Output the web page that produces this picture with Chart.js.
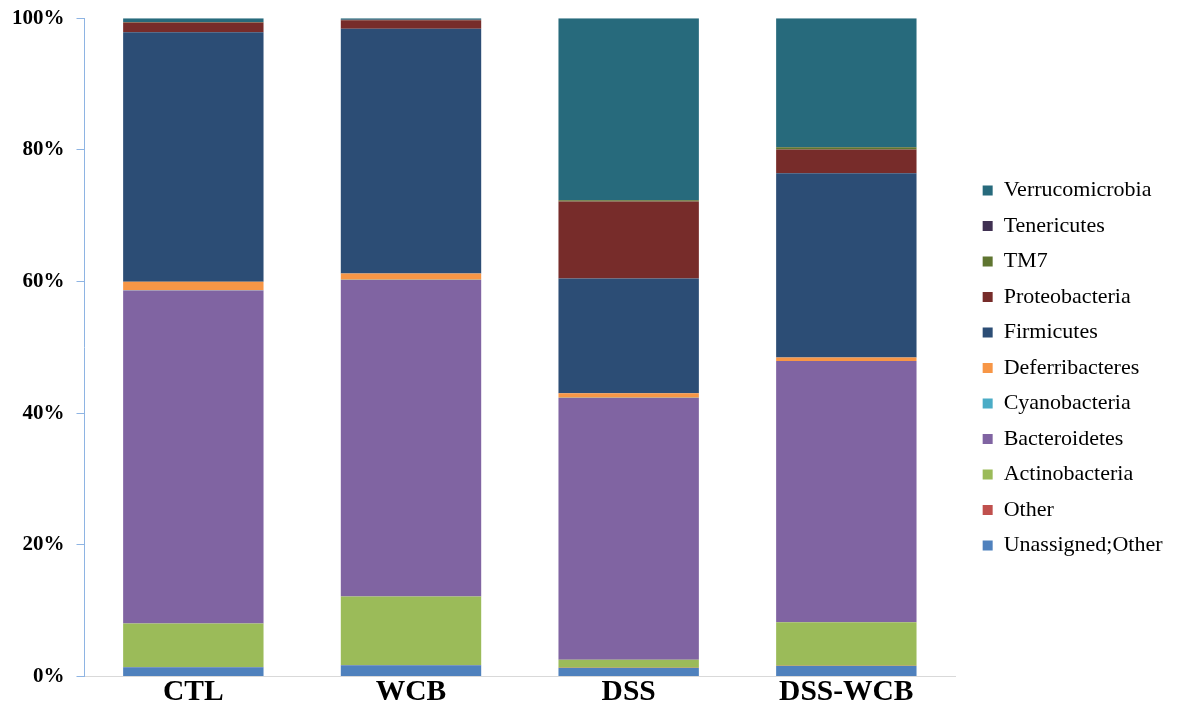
<!DOCTYPE html>
<html>
<head>
<meta charset="utf-8">
<script src="https://cdn.jsdelivr.net/npm/chart.js@4.4.1/dist/chart.umd.min.js"></script>
<style>
  html, body { margin: 0; padding: 0; background: #ffffff; }
  #wrap { width: 1178px; height: 728px; }
</style>
</head>
<body>
<div id="wrap"><canvas id="chart" width="1178" height="728"></canvas></div>
<script>
// Groups along the x axis
const groups = ['CTL', 'WCB', 'DSS', 'DSS-WCB'];

// Relative abundance (%) of each phylum per group, bottom of the stack first
const unassignedOther = [1.4, 1.7, 1.3, 1.6];
const other           = [0.05, 0.05, 0.03, 0.03];
const actinobacteria  = [6.6, 10.4, 1.2, 6.6];
const bacteroidetes   = [50.6, 48.1, 39.8, 39.7];
const cyanobacteria   = [0.02, 0.02, 0.02, 0.02];
const deferribacteres = [1.3, 0.95, 0.7, 0.5];
const firmicutes      = [37.9, 37.2, 17.4, 28.0];
const proteobacteria  = [1.5, 1.3, 11.7, 3.6];
const tm7             = [0.05, 0.03, 0.2, 0.35];
const tenericutes     = [0.03, 0.02, 0.05, 0.05];
const verrucomicrobia = [0.55, 0.23, 27.6, 19.55];

// Y axis tick values
const yTicks = [0, 20, 40, 60, 80, 100];

const series = [
  { label: 'Unassigned;Other', data: unassignedOther, color: '#4F81BD' },
  { label: 'Other',            data: other,           color: '#C0504D' },
  { label: 'Actinobacteria',   data: actinobacteria,  color: '#9BBB59' },
  { label: 'Bacteroidetes',    data: bacteroidetes,   color: '#8064A2' },
  { label: 'Cyanobacteria',    data: cyanobacteria,   color: '#4BACC6' },
  { label: 'Deferribacteres',  data: deferribacteres, color: '#F79646' },
  { label: 'Firmicutes',       data: firmicutes,      color: '#2C4D75' },
  { label: 'Proteobacteria',   data: proteobacteria,  color: '#772C2A' },
  { label: 'TM7',              data: tm7,             color: '#5F7530' },
  { label: 'Tenericutes',      data: tenericutes,     color: '#403152' },
  { label: 'Verrucomicrobia',  data: verrucomicrobia, color: '#276A7C' }
];

const serif = "'Liberation Serif', 'Times New Roman', serif";

new Chart(document.getElementById('chart'), {
  type: 'bar',
  data: {
    labels: groups,
    datasets: series.map(s => ({
      label: s.label,
      data: s.data,
      backgroundColor: s.color,
      borderWidth: 0,
      barPercentage: 0.645,
      categoryPercentage: 1.0
    }))
  },
  options: {
    responsive: false,
    animation: false,
    layout: { padding: { left: 0, right: 15, top: 0, bottom: 28 } },
    plugins: {
      tooltip: { enabled: false },
      legend: {
        position: 'right',
        reverse: true,
        title: { display: true, text: ' ', font: { size: 4 }, padding: { top: 16, bottom: 15 } },
        labels: {
          color: '#000000',
          font: { family: serif, size: 22 },
          boxWidth: 10,
          boxHeight: 10,
          padding: 13.5
        }
      }
    },
    scales: {
      x: {
        stacked: true,
        grid: { display: false },
        border: { color: '#D9D9D9', width: 1 },
        ticks: {
          color: '#000000',
          font: { family: serif, size: 29.5, weight: 'bold', lineHeight: 1 },
          padding: -7
        }
      },
      y: {
        stacked: true,
        min: 0,
        max: 100,
        afterBuildTicks: axis => { axis.ticks = yTicks.map(v => ({ value: v })); },
        grid: { drawOnChartArea: false, drawTicks: true, tickLength: 8, color: '#8EB4E3' },
        border: { color: '#8EB4E3', width: 1 },
        ticks: {
          color: '#000000',
          font: { family: serif, size: 21, weight: 'bold', lineHeight: 0.6 },
          padding: 12,
          callback: v => v + '%'
        }
      },
      // blank spacer between the plot and the legend
      gap: {
        position: 'right',
        min: 0,
        max: 100,
        grid: { display: false },
        border: { display: false },
        ticks: { display: false },
        afterFit: s => { s.width = 14; }
      }
    }
  }
});
</script>
</body>
</html>
